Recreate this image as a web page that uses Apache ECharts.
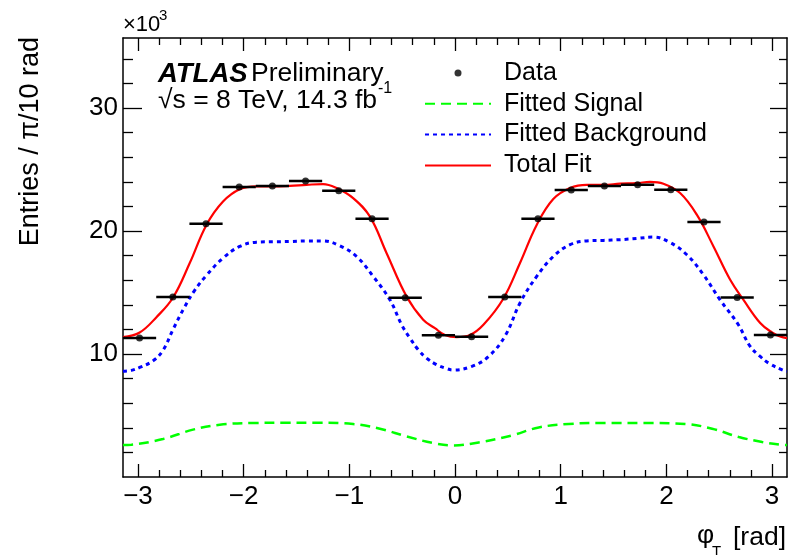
<!DOCTYPE html>
<html><head><meta charset="utf-8">
<script src="https://cdn.jsdelivr.net/npm/echarts@6/dist/echarts.min.js"></script>
<style>html,body{margin:0;padding:0;background:#fff}#c{width:789px;height:555px}</style>
</head><body><div id="c"></div>
<script>
// ---- data ----
const dataX = [-2.985, -2.670, -2.356, -2.042, -1.728, -1.414, -1.100, -0.785, -0.471, -0.157,
               0.157, 0.471, 0.785, 1.100, 1.414, 1.728, 2.042, 2.356, 2.670, 2.985];
const dataY = [11.30, 14.63, 20.59, 23.58, 23.66, 24.07, 23.28, 21.00, 14.58, 11.52,
               11.40, 14.63, 21.00, 23.33, 23.66, 23.76, 23.36, 20.73, 14.60, 11.54];
const binHalfWidth = Math.PI / 20;

const fitX = [-3.142, -2.984, -2.825, -2.668, -2.510, -2.352, -2.195, -2.037, -1.878, -1.721,
              -1.563, -1.405, -1.248, -1.121, -0.964, -0.806, -0.647, -0.458, -0.301, -0.190, -0.095,
              0.016, 0.142, 0.271, 0.457, 0.615, 0.773, 0.930, 1.088, 1.247, 1.404,
              1.562, 1.720, 1.846, 1.972, 2.130, 2.288, 2.446, 2.604, 2.730, 2.888, 3.000, 3.077, 3.142];
const fitY = [11.38, 11.75, 13.00, 14.60, 17.40, 20.50, 22.40, 23.40, 23.63, 23.63,
              23.68, 23.76, 23.82, 23.50, 22.68, 21.19, 18.20, 14.68, 12.79, 12.10, 11.55,
              11.38, 11.55, 12.40, 14.50, 17.40, 20.50, 22.60, 23.50, 23.76, 23.76,
              23.85, 23.90, 24.00, 23.85, 23.09, 21.33, 18.75, 16.04, 14.40, 12.52, 11.75, 11.42, 11.30];

const bkgX = [-3.142, -3.062, -2.984, -2.857, -2.763, -2.668, -2.560, -2.462, -2.352, -2.195,
              -2.037, -1.878, -1.721, -1.563, -1.405, -1.248, -1.089, -0.931, -0.774, -0.616,
              -0.505, -0.427, -0.348, -0.269, -0.174, -0.095, -0.017, 0.160, 0.318, 0.476, 0.615, 0.773,
              0.930, 1.088, 1.247, 1.404, 1.562, 1.720, 1.877, 2.035, 2.194, 2.351,
              2.508, 2.680, 2.793, 2.888, 2.970, 3.096, 3.142];
const bkgY = [8.60, 8.67, 8.91, 9.45, 10.30, 12.00, 13.80, 15.20, 16.40, 17.80,
              18.75, 19.10, 19.13, 19.15, 19.20, 19.20, 18.80, 17.93, 16.31, 14.41,
              12.38, 11.30, 10.35, 9.67, 9.13, 8.86, 8.70, 9.00, 9.80, 11.50, 14.15, 16.31,
              17.93, 18.89, 19.20, 19.24, 19.30, 19.40, 19.51, 19.07, 18.07, 16.45,
              14.41, 12.40, 10.62, 9.80, 9.25, 8.72, 8.60];

const sigX = [-3.142, -3.062, -2.763, -2.479, -2.226, -1.911, -1.594, -1.279, -0.964, -0.711,
              -0.458, -0.206, -0.017, 0.224, 0.539, 0.792, 1.076, 1.391, 1.865, 2.180,
              2.433, 2.686, 2.907, 3.080, 3.142];
const sigY = [2.60, 2.63, 3.09, 3.85, 4.25, 4.39, 4.41, 4.41, 4.31, 3.93,
              3.30, 2.76, 2.57, 2.81, 3.38, 4.03, 4.31, 4.39, 4.39, 4.31,
              3.93, 3.25, 2.85, 2.63, 2.60];

const xMajorTicks = [-3, -2, -1, 0, 1, 2, 3];
const xMinorTicks = [];
for (let i = -14; i <= 14; i++) { if (i % 5 !== 0) xMinorTicks.push(+(i * 0.2).toFixed(1)); }
const yMajorTicks = [10, 20, 30];
const yMinorTicks = [2, 4, 6, 8, 12, 14, 16, 18, 22, 24, 26, 28, 32, 34];

const X_MIN = -Math.PI, X_MAX = Math.PI, Y_MIN = 0, Y_MAX = 35.7;
const FONT = '"Liberation Sans", Arial, Helvetica, sans-serif';

const zip = (xs, ys) => xs.map((x, i) => [x, ys[i]]);
const fmt = v => (v < 0 ? '\u2212' + Math.abs(v) : String(v));

function xAx(grid, pos, ticks, len, labels, line) {
  return {
    type: 'value', gridIndex: grid, position: pos, min: X_MIN, max: X_MAX,
    axisLine: { show: line, onZero: false, lineStyle: { color: '#000', width: 1.5 } },
    axisTick: { show: true, inside: true, length: len, customValues: ticks, lineStyle: { color: '#000', width: 1.3 } },
    axisLabel: labels ? { show: true, customValues: ticks, formatter: fmt, color: '#000', fontFamily: FONT, fontSize: 26, margin: 7 } : { show: false },
    splitLine: { show: false }, minorTick: { show: false }
  };
}
function yAx(grid, pos, ticks, len, labels, line) {
  return {
    type: 'value', gridIndex: grid, position: pos, min: Y_MIN, max: Y_MAX,
    axisLine: { show: line, onZero: false, lineStyle: { color: '#000', width: 1.5 } },
    axisTick: { show: true, inside: true, length: len, customValues: ticks, lineStyle: { color: '#000', width: 1.3 } },
    axisLabel: labels ? { show: true, customValues: ticks, formatter: fmt, color: '#000', fontFamily: FONT, fontSize: 26, margin: 5 } : { show: false },
    splitLine: { show: false }, minorTick: { show: false }
  };
}

const gridRect = { left: 123, right: 2, top: 38, bottom: 78, containLabel: false, outerBoundsMode: 'none' };
const noSym = { color: 'rgba(0,0,0,0)', borderWidth: 0 };

const chart = echarts.init(document.getElementById('c'), null, { renderer: 'canvas' });
chart.setOption({
  animation: false,
  backgroundColor: '#fff',
  grid: [Object.assign({}, gridRect), Object.assign({}, gridRect)],
  xAxis: [
    xAx(0, 'bottom', xMajorTicks, 13, true, true),
    xAx(0, 'top', xMajorTicks, 13, false, true),
    xAx(1, 'bottom', xMinorTicks, 7, false, false),
    xAx(1, 'top', xMinorTicks, 7, false, false)
  ],
  yAxis: [
    yAx(0, 'left', yMajorTicks, 19, true, true),
    yAx(0, 'right', yMajorTicks, 17, false, true),
    yAx(1, 'left', yMinorTicks, 10, false, false),
    yAx(1, 'right', yMinorTicks, 8, false, false)
  ],
  legend: {
    orient: 'vertical', left: 424, top: 60.5, padding: 0, itemWidth: 66, itemHeight: 7, itemGap: 5.8,
    selectedMode: false,
    textStyle: { fontFamily: FONT, fontSize: 25, color: '#000', padding: [0, 0, 0, 8] },
    data: [
      { name: 'Data', icon: 'circle', itemStyle: { color: '#000' } },
      { name: 'Fitted Signal' },
      { name: 'Fitted Background' },
      { name: 'Total Fit' }
    ]
  },
  series: [
    { name: 'Fitted Signal', type: 'line', xAxisIndex: 0, yAxisIndex: 0, data: zip(sigX, sigY), smooth: 0.4,
      symbol: 'none', lineStyle: { color: '#00ff00', width: 2.5, type: [10, 6] }, itemStyle: noSym, z: 2 },
    { name: 'Fitted Background', type: 'line', xAxisIndex: 0, yAxisIndex: 0, data: zip(bkgX, bkgY), smooth: 0.4,
      symbol: 'none', lineStyle: { color: '#0000ff', width: 3, type: [4, 4] }, itemStyle: noSym, z: 2 },
    { name: 'Total Fit', type: 'line', xAxisIndex: 0, yAxisIndex: 0, data: zip(fitX, fitY), smooth: 0.4,
      symbol: 'none', lineStyle: { color: '#ff0000', width: 2.2 }, itemStyle: noSym, z: 3 },
    { name: 'binwidth', type: 'custom', xAxisIndex: 0, yAxisIndex: 0, data: zip(dataX, dataY), z: 4,
      encode: { x: 0, y: 1 },
      renderItem: function (params, api) {
        const x = api.value(0), y = api.value(1);
        const p1 = api.coord([x - binHalfWidth, y]);
        const p2 = api.coord([x + binHalfWidth, y]);
        return { type: 'line', shape: { x1: p1[0], y1: p1[1], x2: p2[0], y2: p2[1] },
                 style: { stroke: '#000', lineWidth: 2.5 } };
      } },
    { name: 'Data', type: 'scatter', xAxisIndex: 0, yAxisIndex: 0, data: zip(dataX, dataY),
      symbol: 'circle', symbolSize: 7, itemStyle: { color: '#000' }, z: 5 }
  ],
  graphic: [
    { type: 'text', left: 123, top: 14, style: { text: '\u00d710', font: '22px ' + FONT, fill: '#000' } },
    { type: 'text', left: 159, top: 8, style: { text: '3', font: '15px ' + FONT, fill: '#000' } },
    { type: 'text', x: 31, y: 37, rotation: Math.PI / 2,
      style: { text: 'Entries / \u03c0/10 rad', font: '27px ' + FONT, fill: '#000', align: 'right', verticalAlign: 'middle' } },
    { type: 'text', x: 158, y: 74,
      style: { text: '{a|ATLAS} {b|Preliminary}', verticalAlign: 'middle',
               rich: { a: { font: 'italic bold 27.5px ' + FONT, fill: '#000' }, b: { font: '26.5px ' + FONT, fill: '#000' } } } },
    { type: 'text', x: 158, y: 101,
      style: { text: '\u221as = 8 TeV, 14.3 fb', font: '26.5px ' + FONT, fill: '#000', verticalAlign: 'middle' } },
    { type: 'text', x: 378, y: 89,
      style: { text: '-1', font: '16px ' + FONT, fill: '#000', verticalAlign: 'middle' } },
    { type: 'text', x: 786, y: 538,
      style: { text: '[rad]', font: '26.5px ' + FONT, fill: '#000', align: 'right', verticalAlign: 'middle' } },
    { type: 'text', x: 697, y: 536,
      style: { text: '\u03c6', font: '26.5px ' + FONT, fill: '#000', verticalAlign: 'middle' } },
    { type: 'text', x: 712, y: 552,
      style: { text: 'T', font: '15px ' + FONT, fill: '#000', verticalAlign: 'middle' } }
  ]
});
</script>
</body></html>
